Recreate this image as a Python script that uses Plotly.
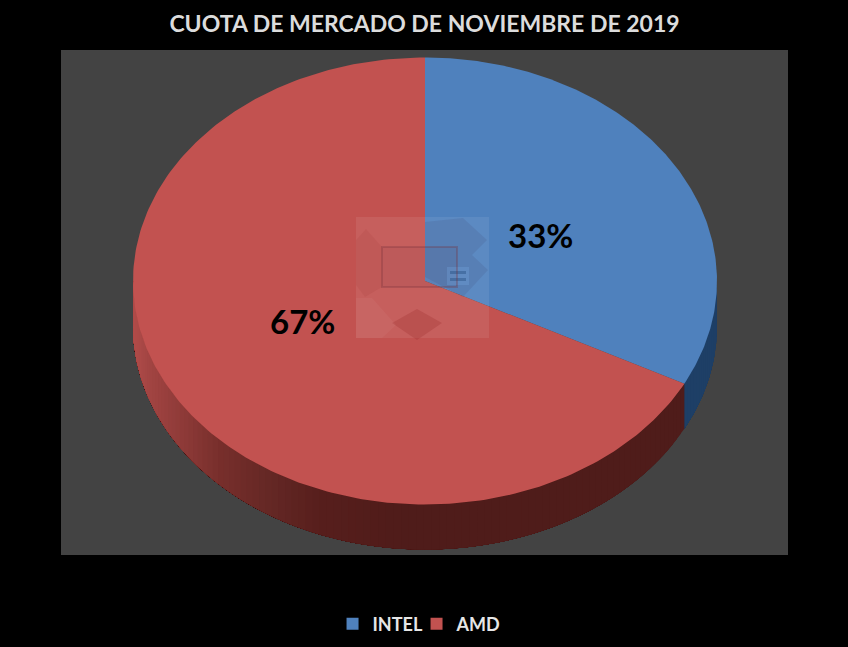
import numpy as np
import plotly.graph_objects as go

title = "CUOTA DE MERCADO DE NOVIEMBRE DE 2019"
brands = ["INTEL", "AMD"]
shares = [32.6, 67.4]
top_colors = ["#4f81bd", "#c25250"]

# pie ellipse in page pixels, the axes below run in the same pixels
cx, cy = 425, 281
rx, ry = 292, 223.5
depth = 45


def rim(t):
    return cx + rx * np.sin(t), cy - ry * np.cos(t)


def hex_rgb(c):
    return [int(c[i:i + 2], 16) for i in (1, 3, 5)]


# side shading, lighter towards the left edge
shade_x = [133, 150, 220, 270, 320, 400, 720]
shade_red = ["#b24c4a", "#a24543", "#782f2c", "#652825", "#571f1d", "#501c1a", "#4f1c1a"]
shade_blue = "#1e3f66"


def side_color(x, idx):
    if idx == 0:
        return shade_blue
    rgb = [np.interp(x, shade_x, [hex_rgb(c)[k] for c in shade_red]) for k in range(3)]
    return "rgb(%d,%d,%d)" % tuple(rgb)


fig = go.Figure()

# slice limits, clockwise from 12 o'clock
limits = 2 * np.pi * np.cumsum([0] + shares) / sum(shares)

# front wall of the pie, each band runs on to the end of the slice and
# the next one paints over it, that way no seams show between bands
for idx in range(len(shares)):
    start = max(limits[idx], np.pi / 2)
    stop = min(limits[idx + 1], 3 * np.pi / 2)
    if stop <= start:
        continue
    steps = int((stop - start) / np.radians(1.5)) + 1
    edges = np.linspace(start, stop, steps + 1)
    for a, b in zip(edges[:-1], edges[1:]):
        ts = np.linspace(a, stop, 60)
        xs, ys = rim(ts)
        col = side_color(rim((a + b) / 2)[0], idx)
        fig.add_trace(go.Scatter(
            x=list(xs) + list(xs[::-1]),
            y=list(ys) + list(ys[::-1] + depth),
            mode="lines", fill="toself", fillcolor=col,
            line=dict(width=0),
            showlegend=False, hoverinfo="skip"
        ))

# top face
for idx, brand in enumerate(brands):
    ts = np.linspace(limits[idx], limits[idx + 1], 240)
    xs, ys = rim(ts)
    fig.add_trace(go.Scatter(
        x=[cx] + list(xs) + [cx],
        y=[cy] + list(ys) + [cy],
        mode="lines", fill="toself", fillcolor=top_colors[idx],
        line=dict(width=0), showlegend=False,
        name=brand, hoverinfo="name"
    ))

# legend entries
for idx, brand in enumerate(brands):
    fig.add_trace(go.Scatter(
        x=[None], y=[None], mode="markers", name=brand,
        marker=dict(symbol="square", size=12, color=top_colors[idx])
    ))

label_pos = [(540, 235), (302, 321)]
for share, (lx, ly) in zip(shares, label_pos):
    fig.add_annotation(
        x=lx, y=ly, text=f"{share:.0f}%", showarrow=False,
        font=dict(family="Lato", size=33, color="black", weight="bold")
    )


# watermark sitting in the middle of the chart
def poly(points):
    return "M" + "L".join(f"{x},{y}" for x, y in points) + "Z"


dark = "rgba(60,50,90,0.12)"
light = "rgba(255,255,255,0.04)"
screen = poly([(382, 247), (457, 247), (457, 287), (382, 287)])
marks = [
    (poly([(356, 217), (489, 217), (489, 338), (356, 338)]), "rgba(255,255,255,0.08)"),
    (poly([(425, 222), (463, 218), (487, 240), (472, 255), (488, 270), (463, 297), (425, 277)]), dark),
    (poly([(356, 240), (366, 229), (382, 247), (382, 287), (365, 297), (356, 285)]), "rgba(150,40,40,0.10)"),
    (poly([(417, 309), (392, 323), (417, 340), (442, 323)]), "rgba(150,40,40,0.25)"),
    (screen, "rgba(90,40,60,0.08)"),
    (poly([(447, 267), (469, 267), (469, 285), (447, 285)]), "rgba(120,170,225,0.30)"),
    (poly([(450, 271), (466, 271), (466, 274), (450, 274)]), "rgba(40,80,130,0.45)"),
    (poly([(450, 278), (466, 278), (466, 281), (450, 281)]), "rgba(40,80,130,0.45)"),
    (poly([(356, 298), (372, 298), (396, 325), (382, 338), (356, 338)]), light),
]
shapes = [dict(type="path", path=p, fillcolor=c, line=dict(width=0), layer="above") for p, c in marks]
shapes.append(dict(type="path", path=screen, fillcolor="rgba(0,0,0,0)",
                   line=dict(color="rgba(120,50,60,0.30)", width=2), layer="above"))

fig.update_layout(
    width=848, height=647,
    margin=dict(l=61, r=60, t=50, b=92),
    paper_bgcolor="black",
    plot_bgcolor="#434343",
    title=dict(
        text=title, x=0.5, xanchor="center", xref="paper", y=0.963, yanchor="middle",
        font=dict(family="Lato", size=23, color="#dcdcdc", weight="bold")
    ),
    xaxis=dict(range=[61, 788], visible=False, fixedrange=True),
    yaxis=dict(range=[555, 50], visible=False, fixedrange=True),
    legend=dict(
        orientation="h", xref="container", yref="container",
        x=0.4912, xanchor="center", y=0.0355, yanchor="middle",
        entrywidth=39, entrywidthmode="pixels",
        font=dict(family="Lato", size=18, color="#e6e6e6", weight="bold"),
        bgcolor="rgba(0,0,0,0)"
    ),
    shapes=shapes
)

fig.write_html(
    "out.html",
    config=dict(displayModeBar=False),
    post_script="document.body.style.margin='0';document.body.style.background='black';"
)
